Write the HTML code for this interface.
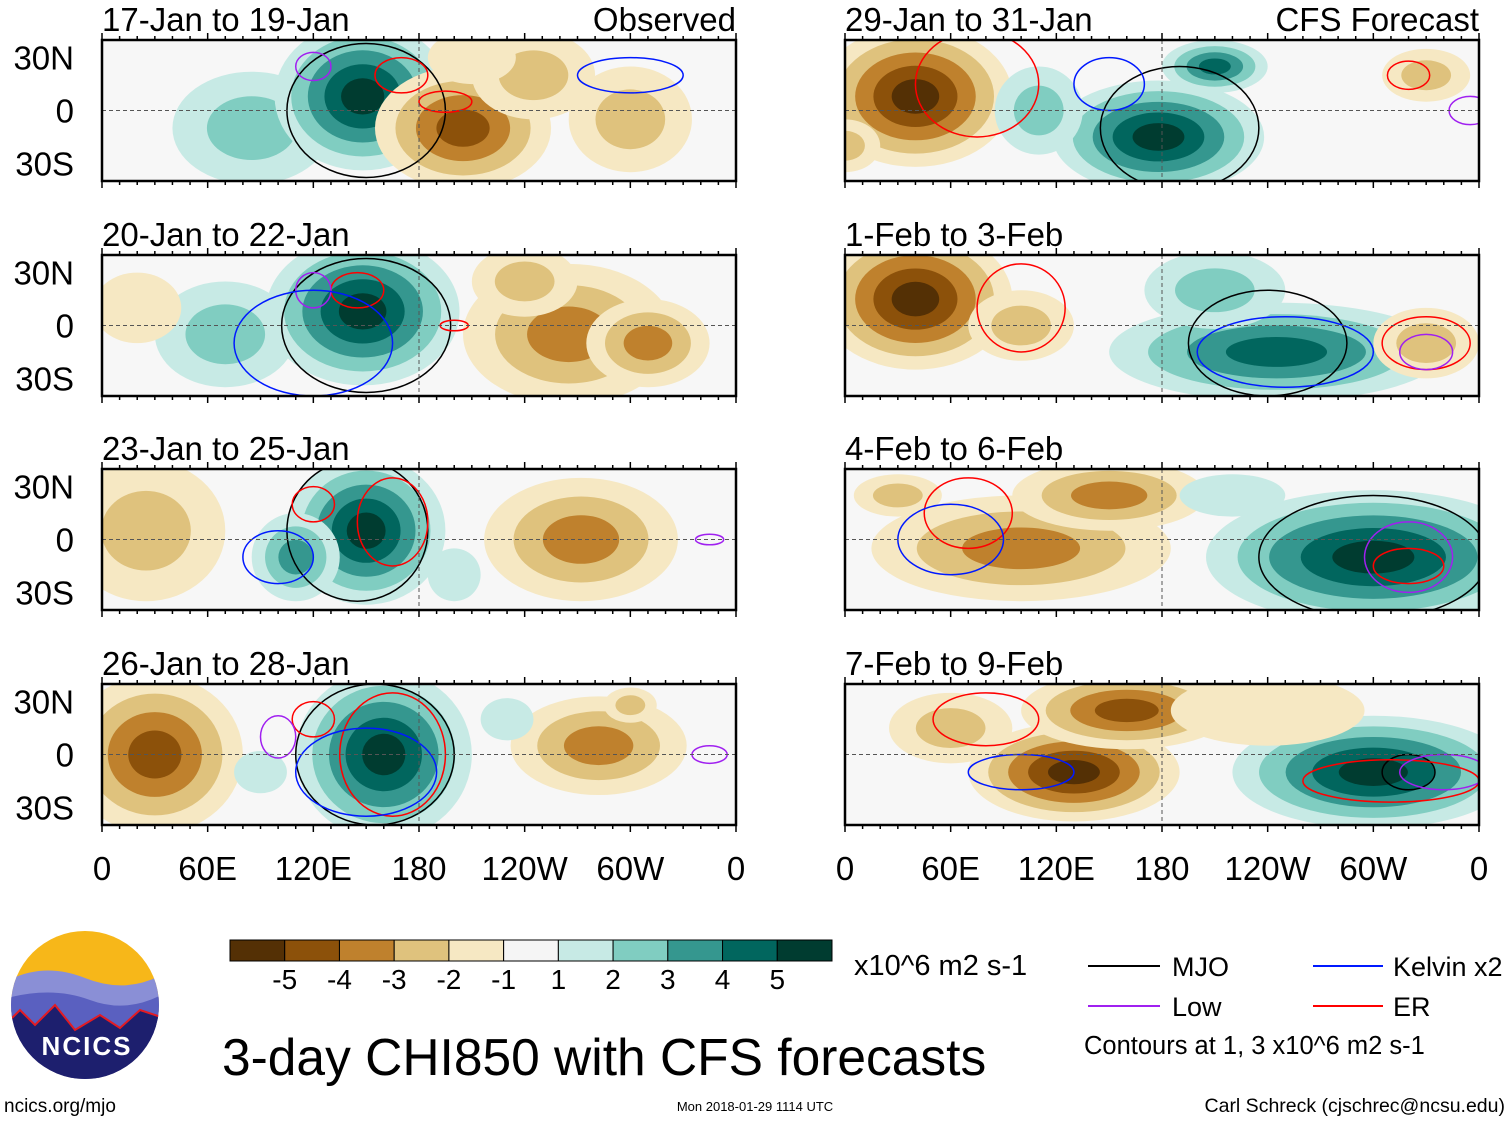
<!DOCTYPE html>
<html><head><meta charset="utf-8"><style>
html,body{margin:0;padding:0;background:#fff;}
svg{display:block;font-family:"Liberation Sans",sans-serif;}
</style></head><body>
<svg id="chart" width="1510" height="1121" viewBox="0 0 1510 1121" xmlns="http://www.w3.org/2000/svg">
<defs id="defs"></defs>
<g id="panels"></g>
<g id="labels"></g>
<g id="colorbar"></g>
<g id="legend">
  <line x1="1088" y1="966" x2="1160" y2="966" stroke="#000" stroke-width="2"/>
  <text x="1172" y="976" font-size="27">MJO</text>
  <line x1="1313" y1="966" x2="1383" y2="966" stroke="#0019ff" stroke-width="2"/>
  <text x="1393" y="976" font-size="27">Kelvin x2</text>
  <line x1="1088" y1="1006" x2="1160" y2="1006" stroke="#a020f0" stroke-width="2"/>
  <text x="1172" y="1016" font-size="27">Low</text>
  <line x1="1313" y1="1006" x2="1383" y2="1006" stroke="#ff0000" stroke-width="2"/>
  <text x="1393" y="1016" font-size="27">ER</text>
  <text x="1084" y="1054" font-size="25.5">Contours at 1, 3 x10^6 m2 s-1</text>
</g>
<g>
  <clipPath id="logoclip"><circle cx="85" cy="1005" r="74"/></clipPath>
  <g clip-path="url(#logoclip)">
    <rect x="0" y="920" width="170" height="170" fill="#f7b719"/>
    <path d="M0 985 Q40 960 85 978 T170 970 L170 1090 L0 1090Z" fill="#8a8fd6"/>
    <path d="M0 1000 Q50 985 90 1000 T170 990 L170 1090 L0 1090Z" fill="#5a60c0"/>
    <path d="M0 1030 L20 1010 L35 1025 L55 1005 L75 1030 L100 1015 L120 1028 L140 1010 L170 1020 L170 1090 L0 1090Z" fill="#1d1f6e" stroke="#e31b23" stroke-width="2"/>
  </g>
  <text x="87" y="1055" font-size="26" font-weight="bold" fill="#fff" text-anchor="middle" letter-spacing="2">NCICS</text>
</g>
<text x="222" y="1075" font-size="51.5">3-day CHI850 with CFS forecasts</text>
<text x="854" y="975" font-size="29">x10^6 m2 s-1</text>
<text x="4" y="1112" font-size="19">ncics.org/mjo</text>
<text x="755" y="1111" font-size="13" text-anchor="middle">Mon 2018-01-29 1114 UTC</text>
<text x="1505" y="1112" font-size="19.5" text-anchor="end">Carl Schreck (cjschrec@ncsu.edu)</text>
</svg>
<script>
// ----- data -----
const levelColors = ["#543005","#8c510a","#bf812d","#dfc27d","#f6e8c3","#f5f5f5","#c7eae5","#80cdc1","#35978f","#01665e","#003c30"];
const colorbarLabels = ["-5","-4","-3","-2","-1","1","2","3","4","5"];
const lonTickLabels = ["0","60E","120E","180","120W","60W","0"];
const lonTicks = [0,60,120,180,240,300,360];
const latTickLabels = ["30N","0","30S"];
const latTicks = [30,0,-30];
const panelTitles = ["17-Jan to 19-Jan","20-Jan to 22-Jan","23-Jan to 25-Jan","26-Jan to 28-Jan","29-Jan to 31-Jan","1-Feb to 3-Feb","4-Feb to 6-Feb","7-Feb to 9-Feb"];
// blobs: [lon, lat, rxDeg, ryDeg, signedPeakValue]  (+ green, - brown)
const blobs0 = [[85,-10,45,32,2],[148,8,50,42,5],[205,-10,50,35,-4],[245,20,35,25,-2],[300,-5,35,30,-2],[210,30,25,15,-1]];
const blobs1 = [[70,-5,40,30,2],[148,8,55,42,5],[265,-5,60,40,-3],[240,25,30,20,-2],[310,-10,35,25,-3],[20,10,25,20,-1]];
const blobs2 = [[25,5,45,40,-2],[150,5,45,42,5],[110,-10,25,25,3],[272,0,55,35,-3],[200,-20,15,15,1]];
const blobs3 = [[30,0,50,45,-4],[160,0,50,48,5],[282,5,50,28,-3],[230,20,15,12,1],[300,28,15,10,-2],[90,-10,15,12,1]];
const blobs4 = [[40,8,55,40,-5],[178,-15,60,32,5],[210,25,30,15,4],[110,0,25,25,2],[330,20,25,15,-2],[0,-20,20,15,-2]];
const blobs5 = [[40,15,55,40,-5],[245,-15,95,28,4],[210,20,40,22,2],[100,0,30,20,-2],[330,-10,30,20,-2]];
const blobs6 = [[100,-5,85,30,-3],[150,25,55,20,-3],[300,-10,95,38,5],[30,25,25,12,-2],[220,25,30,12,1]];
const blobs7 = [[130,-10,60,28,-5],[160,25,60,22,-4],[300,-10,80,32,5],[60,15,35,20,-2],[240,25,55,20,-1]];
const panelBlobs = [blobs0,blobs1,blobs2,blobs3,blobs4,blobs5,blobs6,blobs7];
// contours: [lon, lat, rxDeg, ryDeg, type]  type: 0 MJO,1 Kelvin,2 ER,3 Low
const contours0 = [[150,0,45,38,0],[170,20,15,10,2],[195,5,15,6,2],[120,25,10,8,3],[300,20,30,10,1]];
const contours1 = [[150,0,48,38,0],[145,20,15,10,2],[200,0,8,3,2],[120,20,10,10,3],[120,-10,45,30,1]];
const contours2 = [[145,5,40,40,0],[165,10,20,25,2],[120,20,12,10,2],[100,-10,20,15,1],[345,0,8,3,3]];
const contours3 = [[155,0,45,40,0],[165,0,30,35,2],[120,20,12,10,2],[100,10,10,12,3],[345,0,10,5,3],[150,-10,40,25,1]];
const contours4 = [[190,-10,45,35,0],[75,15,35,30,2],[150,15,20,15,1],[320,20,12,8,2],[355,0,12,8,3]];
const contours5 = [[240,-10,45,30,0],[100,10,25,25,2],[330,-10,25,15,2],[250,-15,50,20,1],[330,-15,15,10,3]];
const contours6 = [[300,-10,65,35,0],[70,15,25,20,2],[320,-15,20,10,2],[320,-10,25,20,3],[60,0,30,20,1]];
const contours7 = [[320,-10,15,10,0],[310,-15,50,12,2],[80,20,30,15,2],[100,-10,30,10,1],[340,-10,25,10,3]];
const panelContours = [contours0,contours1,contours2,contours3,contours4,contours5,contours6,contours7];
const contourColors = ["#000000","#0019ff","#ff0000","#a020f0"];

// ----- layout -----
const NS = "http://www.w3.org/2000/svg";
const colX = [102, 845];
const rowY = [40, 255, 469, 684];
const PW = 634, PH = 141;
function mk(tag, attrs, parent){ const e=document.createElementNS(NS,tag); for(const k in attrs) e.setAttribute(k,attrs[k]); parent.appendChild(e); return e; }
function xScale(x0, lon){ return x0 + lon/360*PW; }
function yScale(y0, lat){ return y0 + PH/2 - lat/40*(PH/2); }

const defs = document.getElementById('defs');
const pg = document.getElementById('panels');
for(let p=0;p<8;p++){
  const x0 = colX[p<4?0:1], y0 = rowY[p%4];
  const cp = mk('clipPath',{id:'clip'+p},defs);
  mk('rect',{x:x0,y:y0,width:PW,height:PH},cp);
  const g = mk('g',{},pg);
  
  
  mk('rect',{x:x0,y:y0,width:PW,height:PH,fill:'#f7f7f7'},g);
  const inner = mk('g',{'clip-path':'url(#clip'+p+')'},g);
  panelBlobs[p].forEach(b=>{
    const [lon,lat,rx,ry,sv] = b;
    const v = Math.abs(sv), sign = sv>0?1:-1;
    for(let k=1;k<=v;k++){
      const s = 1 - (k-1)/(v+0.3);
      const e = mk('ellipse',{cx:xScale(x0,lon),cy:yScale(y0,lat),rx:rx*s*PW/360,ry:ry*s*(PH/80),fill:levelColors[5+sign*k]},inner);
      
      
    }
  });
  panelContours[p].forEach(c=>{
    const [lon,lat,rx,ry,t] = c;
    const e = mk('ellipse',{cx:xScale(x0,lon),cy:yScale(y0,lat),rx:rx*PW/360,ry:ry*(PH/80),fill:'none',stroke:contourColors[t],'stroke-width':1.5},inner);
    
    
  });
  mk('line',{x1:x0,x2:x0+PW,y1:yScale(y0,0),y2:yScale(y0,0),stroke:'#555','stroke-dasharray':'4,3','stroke-width':1},g);
  mk('line',{x1:xScale(x0,180),x2:xScale(x0,180),y1:y0,y2:y0+PH,stroke:'#555','stroke-dasharray':'4,3','stroke-width':1},g);
  mk('rect',{x:x0,y:y0,width:PW,height:PH,fill:'none',stroke:'#000','stroke-width':2.5},g);
  for(let lon=0;lon<=360;lon+=10){
    const len = lon%60===0?7:4;
    mk('line',{x1:xScale(x0,lon),x2:xScale(x0,lon),y1:y0,y2:y0-len,stroke:'#000','stroke-width':1.5},g);
    mk('line',{x1:xScale(x0,lon),x2:xScale(x0,lon),y1:y0+PH,y2:y0+PH+len,stroke:'#000','stroke-width':1.5},g);
  }
  const t = mk('text',{x:x0,y:y0-9,'font-size':33},g); t.textContent = panelTitles[p];
  
  
  if(p%4===0){
    const r = mk('text',{x:x0+PW,y:y0-9,'font-size':33,'text-anchor':'end'},g);
    r.textContent = p===0?'Observed':'CFS Forecast';
    
    
  }
  if(p<4){
    latTicks.forEach((lat,i)=>{
      const l = mk('text',{x:74,y:yScale(y0,lat)+12,'font-size':33,'text-anchor':'end'},g);
      l.textContent = latTickLabels[i];
      
      
    });
  }
}
const lg = document.getElementById('labels');
colX.forEach(x0=>{
  lonTicks.forEach((lon,i)=>{
    const l = mk('text',{x:xScale(x0,lon),y:880,'font-size':33,'text-anchor':'middle'},lg);
    l.textContent = lonTickLabels[i];
    
    
  });
});
const cb = document.getElementById('colorbar');
const cbx=230, cbw=602/11;
levelColors.forEach((c,i)=>{
  const r = mk('rect',{x:cbx+i*cbw,y:940,width:cbw,height:21,fill:c,stroke:'#000','stroke-width':1},cb);
  
  
});
colorbarLabels.forEach((s,i)=>{
  const l = mk('text',{x:cbx+(i+1)*cbw,y:989,'font-size':28,'text-anchor':'middle'},cb);
  l.textContent = s;
  
  
});
</script>
</body></html>
